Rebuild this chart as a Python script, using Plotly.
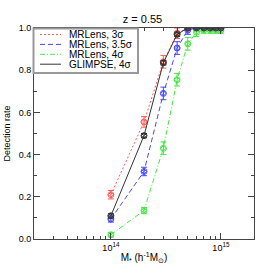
import plotly.graph_objects as go

mass = [1e14, 2e14, 3e14, 4e14, 5e14, 6e14, 7e14, 8e14, 9e14, 1e15]
mr3 = [0.21, 0.555, 0.84, 0.975, 1.0, 1.0, 1.0, 1.0, 1.0, 1.0]
mr3_err = [0.02, 0.025, 0.03, 0.025, 0.01, 0.0, 0.0, 0.0, 0.0, 0.0]
mr35 = [0.095, 0.32, 0.69, 0.905, 0.99, 1.0, 1.0, 1.0, 1.0, 1.0]
mr35_err = [0.015, 0.02, 0.03, 0.03, 0.02, 0.01, 0.0, 0.0, 0.0, 0.0]
mr4 = [0.02, 0.135, 0.43, 0.755, 0.925, 0.98, 0.99, 0.99, 0.99, 0.99]
mr4_err = [0.01, 0.015, 0.03, 0.03, 0.03, 0.02, 0.015, 0.015, 0.015, 0.015]
gl4 = [0.11, 0.49, 0.835, 0.97, 1.0, 1.0, 1.0, 1.0, 1.0, 1.0]
gl4_err = [0.01, 0.01, 0.01, 0.01, 0.0, 0.0, 0.0, 0.0, 0.0, 0.0]

names = ["MRLens, 3σ", "MRLens, 3.5σ", "MRLens, 4σ", "GLIMPSE, 4σ"]
series = [
    (names[0], mr3, mr3_err, "#ff5a5a", "2px,2px"),
    (names[1], mr35, mr35_err, "#4646ff", "5px,3px"),
    (names[2], mr4, mr4_err, "#46e646", "5px,2px,1px,2px"),
    (names[3], gl4, gl4_err, "#333333", "solid"),
]

fig = go.Figure()
for name, y, err, col, dash in series:
    fig.add_trace(go.Scatter(x=mass, y=y, mode="lines", name=name, showlegend=False,
                             line=dict(color=col, width=1, dash=dash)))
    fig.add_trace(go.Scatter(x=mass, y=y, mode="markers", showlegend=False,
                             marker=dict(symbol="circle-open", size=6, color=col, line=dict(width=1)),
                             error_y=dict(type="data", array=err, color=col, thickness=1, width=3)))
    fig.add_trace(go.Scatter(x=mass, y=y, mode="markers", showlegend=False,
                             marker=dict(symbol="diamond-open", size=4, color=col, line=dict(width=1))))

# manual compact legend (paper coordinates)
L, R, T, B = 34, 254, 28, 239
def px(xp):
    return (xp - L) / (R - L)
def py(yp):
    return (B - yp) / (B - T)

fig.add_shape(type="rect", xref="paper", yref="paper",
              x0=px(33.5), x1=px(138), y0=py(73), y1=py(28.5),
              line=dict(color="#999999", width=2), fillcolor="white", layer="above")
for i, (name, y, err, col, dash) in enumerate(series):
    yy = 34.5 + 9.9 * i
    fig.add_shape(type="line", xref="paper", yref="paper",
                  x0=px(40), x1=px(61), y0=py(yy), y1=py(yy),
                  line=dict(color=col, width=1, dash=dash), layer="above")
    fig.add_annotation(text=name, xref="paper", yref="paper", x=px(67), y=py(yy),
                       xanchor="left", yanchor="middle", showarrow=False,
                       font=dict(size=10, color="black"))

fig.update_layout(
    width=274, height=274,
    margin=dict(l=L, r=274 - R, t=T, b=274 - B),
    paper_bgcolor="white", plot_bgcolor="white",
    font=dict(family="Liberation Sans, Arial, sans-serif", size=10, color="black"),
    title=dict(text="z = 0.55", x=0.52, xanchor="center", y=1 - 19 / 274, yanchor="middle",
               font=dict(size=11)),
    showlegend=False,
)
fig.update_xaxes(type="log", range=[13.301, 15.301], showgrid=False, zeroline=False,
                 automargin=False,
                 showline=True, linecolor="#444444", linewidth=1, mirror="ticks",
                 ticks="inside", ticklen=6, tickcolor="#444444",
                 tickvals=[1e14, 1e15], ticktext=["10<sup>14</sup>", "10<sup>15</sup>"],
                 tickfont=dict(size=9),
                 minor=dict(ticks="inside", ticklen=3, tickcolor="#444444", dtick="D1", showgrid=False),
                 title=dict(text="M<sub>*</sub> (h<sup>-1</sup>M<sub>⊙</sub>)", font=dict(size=10), standoff=2))
fig.update_yaxes(range=[0, 1.0], showgrid=False, zeroline=False,
                 automargin=False,
                 showline=True, linecolor="#444444", linewidth=1, mirror="ticks",
                 ticks="inside", ticklen=6, tickcolor="#444444",
                 tickvals=[0, 0.2, 0.4, 0.6, 0.8, 1.0], ticktext=["0.0", "0.2", "0.4", "0.6", "0.8", "1.0"],
                 tickfont=dict(size=9),
                 minor=dict(ticks="inside", ticklen=3, tickcolor="#444444", dtick=0.1, showgrid=False),
                 title=dict(text="Detection rate", font=dict(size=9), standoff=6))

fig.write_html("out.html", config={"displayModeBar": False},
               post_script="document.body.style.margin='0px';")
